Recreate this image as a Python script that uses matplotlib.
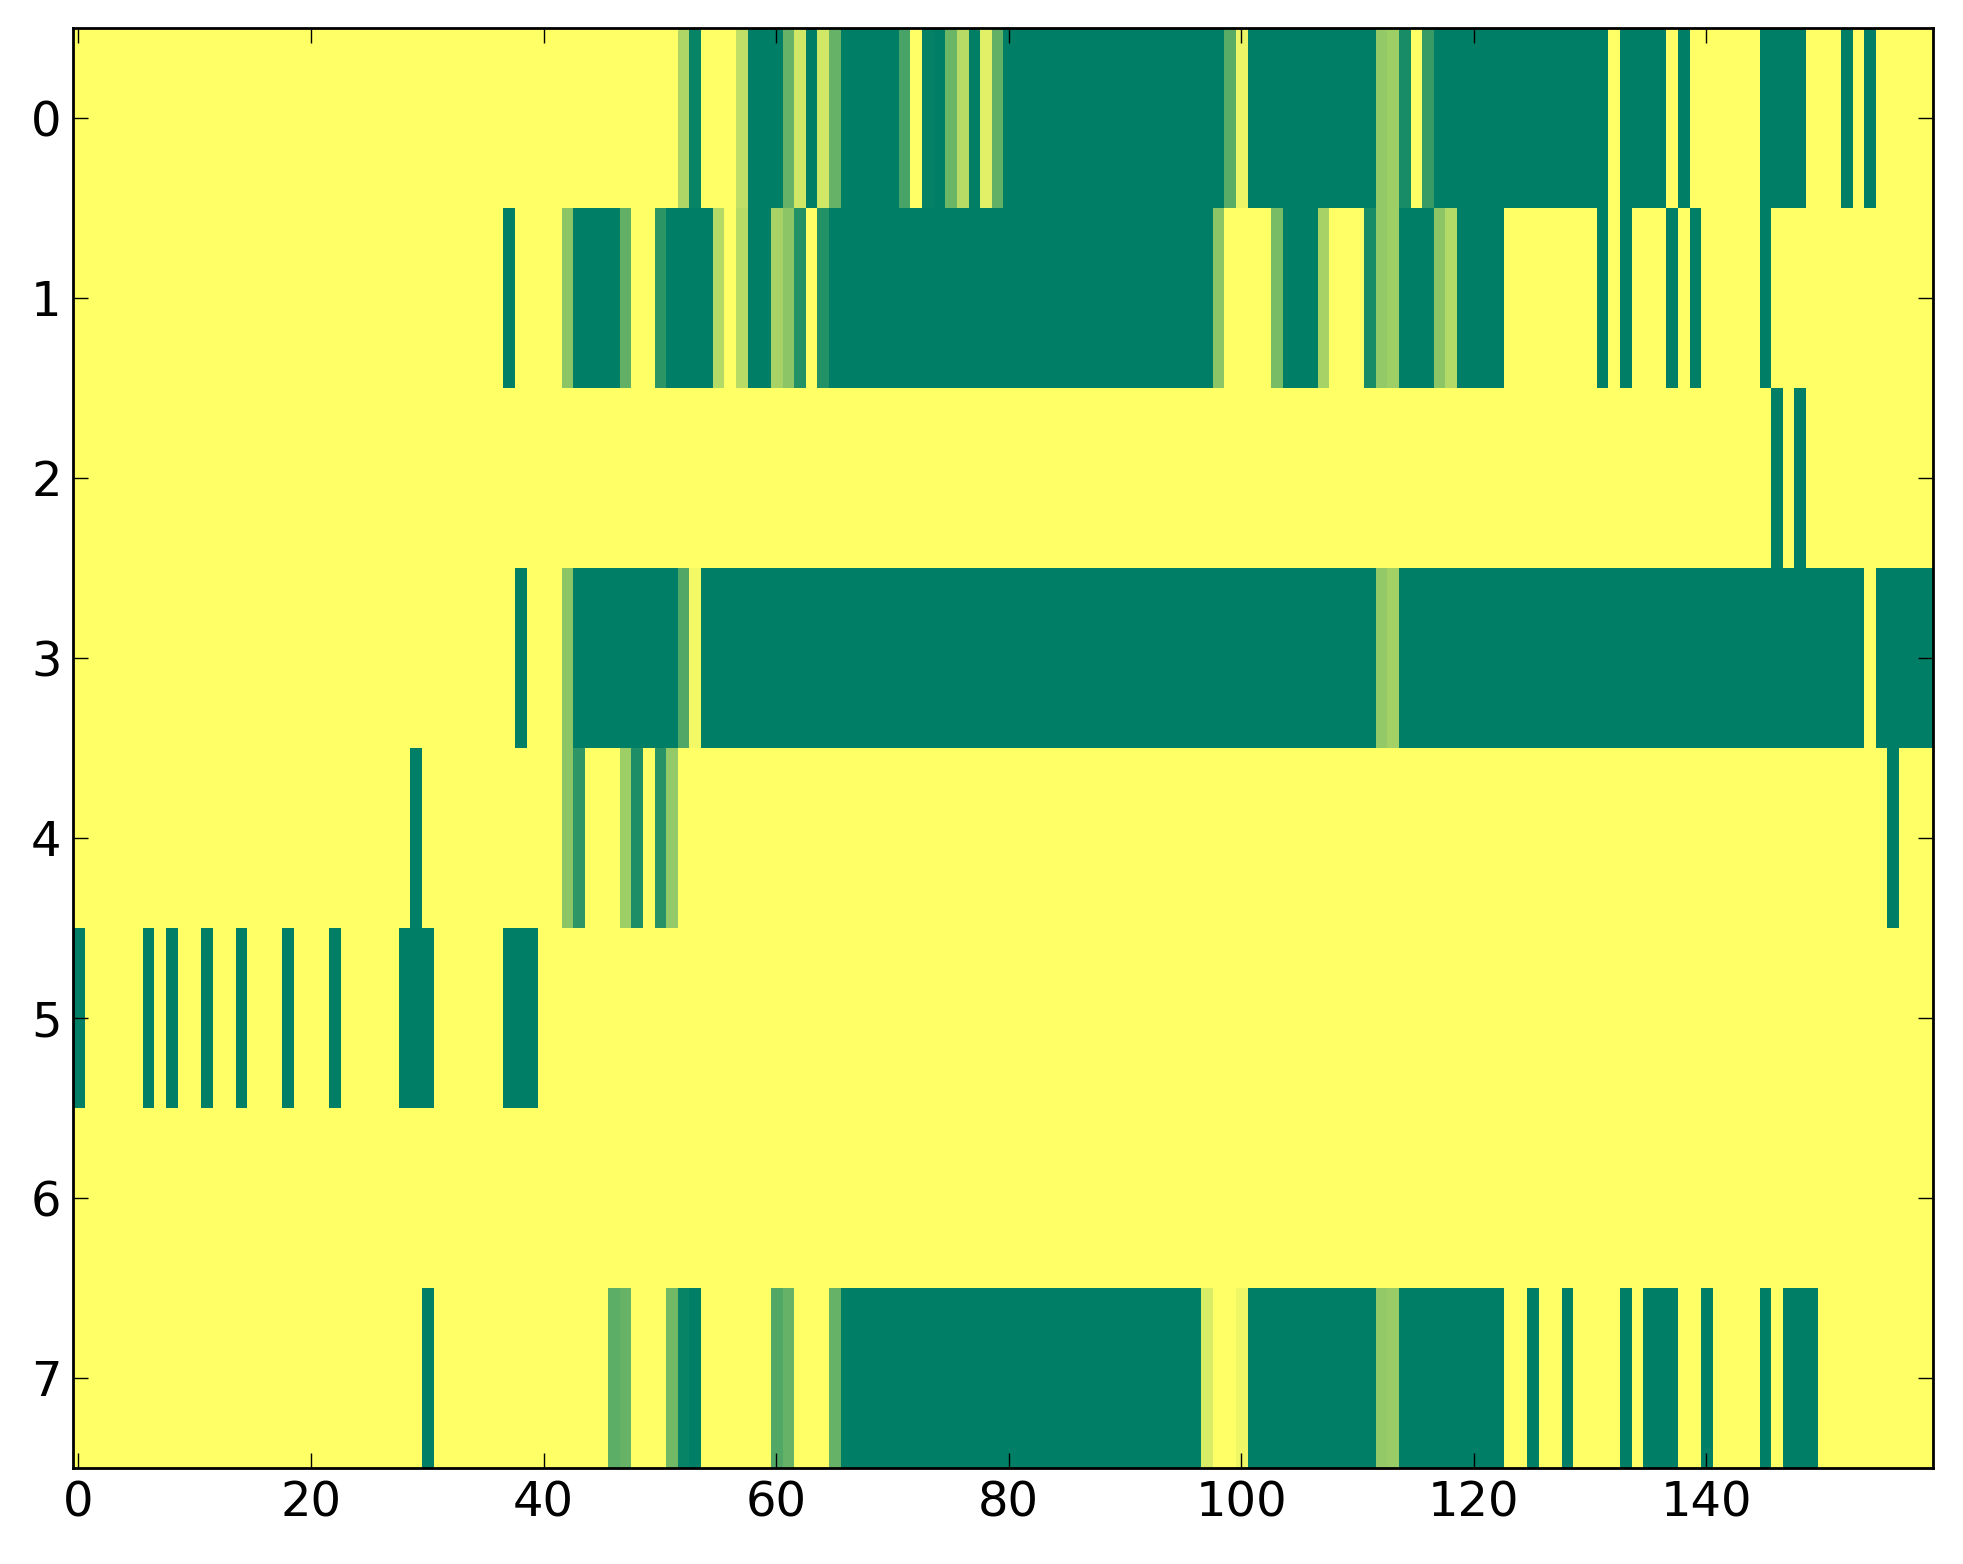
# ==========================
# Heatmap of 8 rows x 160 columns (summer_r)
# ==========================

import numpy as np
import matplotlib
matplotlib.use("Agg")
import matplotlib.pyplot as plt

# ==========================
# Data (0 = yellow, 1 = dark green)
# ==========================

row_0 = [
    0, 0, 0, 0, 0, 0, 0, 0, 0, 0, 0, 0, 0, 0, 0, 0, 0, 0, 0, 0,
    0, 0, 0, 0, 0, 0, 0, 0, 0, 0, 0, 0, 0, 0, 0, 0, 0, 0, 0, 0,
    0, 0, 0, 0, 0, 0, 0, 0, 0, 0, 0, 0, .32, .97, 0, 0, 0, .25, 1, 1,
    1, .6, .18, 1, .18, .6, 1, 1, 1, 1, 1, .72, 0, .98, 1, .58, .28, 1, .12, .62,
    1, 1, 1, 1, 1, 1, 1, 1, 1, 1, 1, 1, 1, 1, 1, 1, 1, 1, 1, .65,
    .08, 1, 1, 1, 1, 1, 1, 1, 1, 1, 1, 1, .42, .38, .9, 0, .78, 1, 1, 1,
    1, 1, 1, 1, 1, 1, 1, 1, 1, 1, 1, 1, 0, 1, 1, 1, 1, 0, 1, 0,
    0, 0, 0, 0, 0, 1, 1, 1, 1, 0, 0, 0, 1, 0, 1, 0, 0, 0, 0, 0,
]

row_1 = [
    0, 0, 0, 0, 0, 0, 0, 0, 0, 0, 0, 0, 0, 0, 0, 0, 0, 0, 0, 0,
    0, 0, 0, 0, 0, 0, 0, 0, 0, 0, 0, 0, 0, 0, 0, 0, 0, 1, 0, 0,
    0, 0, .45, 1, 1, 1, 1, .62, 0, 0, .83, 1, 1, 1, 1, .3, 0, .28, 1, 1,
    .35, .45, .86, 0, .86, 1, 1, 1, 1, 1, 1, 1, 1, 1, 1, 1, 1, 1, 1, 1,
    1, 1, 1, 1, 1, 1, 1, 1, 1, 1, 1, 1, 1, 1, 1, 1, 1, 1, .45, 0,
    0, 0, 0, .52, 1, 1, 1, .35, 0, 0, 0, .9, .42, .38, 1, 1, 1, .45, .3, 1,
    1, 1, 1, 0, 0, 0, 0, 0, 0, 0, 0, 1, 0, 1, 0, 0, 0, 1, 0, 1,
    0, 0, 0, 0, 0, 1, 0, 0, 0, 0, 0, 0, 0, 0, 0, 0, 0, 0, 0, 0,
]

row_2 = [
    0, 0, 0, 0, 0, 0, 0, 0, 0, 0, 0, 0, 0, 0, 0, 0, 0, 0, 0, 0,
    0, 0, 0, 0, 0, 0, 0, 0, 0, 0, 0, 0, 0, 0, 0, 0, 0, 0, 0, 0,
    0, 0, 0, 0, 0, 0, 0, 0, 0, 0, 0, 0, 0, 0, 0, 0, 0, 0, 0, 0,
    0, 0, 0, 0, 0, 0, 0, 0, 0, 0, 0, 0, 0, 0, 0, 0, 0, 0, 0, 0,
    0, 0, 0, 0, 0, 0, 0, 0, 0, 0, 0, 0, 0, 0, 0, 0, 0, 0, 0, 0,
    0, 0, 0, 0, 0, 0, 0, 0, 0, 0, 0, 0, 0, 0, 0, 0, 0, 0, 0, 0,
    0, 0, 0, 0, 0, 0, 0, 0, 0, 0, 0, 0, 0, 0, 0, 0, 0, 0, 0, 0,
    0, 0, 0, 0, 0, 0, 1, 0, 1, 0, 0, 0, 0, 0, 0, 0, 0, 0, 0, 0,
]

row_3 = [
    0, 0, 0, 0, 0, 0, 0, 0, 0, 0, 0, 0, 0, 0, 0, 0, 0, 0, 0, 0,
    0, 0, 0, 0, 0, 0, 0, 0, 0, 0, 0, 0, 0, 0, 0, 0, 0, 0, 1, 0,
    0, 0, .45, 1, 1, 1, 1, 1, 1, 1, 1, 1, .68, .05, 1, 1, 1, 1, 1, 1,
    1, 1, 1, 1, 1, 1, 1, 1, 1, 1, 1, 1, 1, 1, 1, 1, 1, 1, 1, 1,
    1, 1, 1, 1, 1, 1, 1, 1, 1, 1, 1, 1, 1, 1, 1, 1, 1, 1, 1, 1,
    1, 1, 1, 1, 1, 1, 1, 1, 1, 1, 1, 1, .42, .36, 1, 1, 1, 1, 1, 1,
    1, 1, 1, 1, 1, 1, 1, 1, 1, 1, 1, 1, 1, 1, 1, 1, 1, 1, 1, 1,
    1, 1, 1, 1, 1, 1, 1, 1, 1, 1, 1, 1, 1, 1, 0, 1, 1, 1, 1, 1,
]

row_4 = [
    0, 0, 0, 0, 0, 0, 0, 0, 0, 0, 0, 0, 0, 0, 0, 0, 0, 0, 0, 0,
    0, 0, 0, 0, 0, 0, 0, 0, 0, 1, 0, 0, 0, 0, 0, 0, 0, 0, 0, 0,
    0, 0, .45, .82, 0, 0, 0, .38, .88, 0, .85, .42, 0, 0, 0, 0, 0, 0, 0, 0,
    0, 0, 0, 0, 0, 0, 0, 0, 0, 0, 0, 0, 0, 0, 0, 0, 0, 0, 0, 0,
    0, 0, 0, 0, 0, 0, 0, 0, 0, 0, 0, 0, 0, 0, 0, 0, 0, 0, 0, 0,
    0, 0, 0, 0, 0, 0, 0, 0, 0, 0, 0, 0, 0, 0, 0, 0, 0, 0, 0, 0,
    0, 0, 0, 0, 0, 0, 0, 0, 0, 0, 0, 0, 0, 0, 0, 0, 0, 0, 0, 0,
    0, 0, 0, 0, 0, 0, 0, 0, 0, 0, 0, 0, 0, 0, 0, 0, 1, 0, 0, 0,
]

row_5 = [
    1, 0, 0, 0, 0, 0, 1, 0, 1, 0, 0, 1, 0, 0, 1, 0, 0, 0, 1, 0,
    0, 0, 1, 0, 0, 0, 0, 0, 1, 1, 1, 0, 0, 0, 0, 0, 0, 1, 1, 1,
    0, 0, 0, 0, 0, 0, 0, 0, 0, 0, 0, 0, 0, 0, 0, 0, 0, 0, 0, 0,
    0, 0, 0, 0, 0, 0, 0, 0, 0, 0, 0, 0, 0, 0, 0, 0, 0, 0, 0, 0,
    0, 0, 0, 0, 0, 0, 0, 0, 0, 0, 0, 0, 0, 0, 0, 0, 0, 0, 0, 0,
    0, 0, 0, 0, 0, 0, 0, 0, 0, 0, 0, 0, 0, 0, 0, 0, 0, 0, 0, 0,
    0, 0, 0, 0, 0, 0, 0, 0, 0, 0, 0, 0, 0, 0, 0, 0, 0, 0, 0, 0,
    0, 0, 0, 0, 0, 0, 0, 0, 0, 0, 0, 0, 0, 0, 0, 0, 0, 0, 0, 0,
]

row_6 = [
    0, 0, 0, 0, 0, 0, 0, 0, 0, 0, 0, 0, 0, 0, 0, 0, 0, 0, 0, 0,
    0, 0, 0, 0, 0, 0, 0, 0, 0, 0, 0, 0, 0, 0, 0, 0, 0, 0, 0, 0,
    0, 0, 0, 0, 0, 0, 0, 0, 0, 0, 0, 0, 0, 0, 0, 0, 0, 0, 0, 0,
    0, 0, 0, 0, 0, 0, 0, 0, 0, 0, 0, 0, 0, 0, 0, 0, 0, 0, 0, 0,
    0, 0, 0, 0, 0, 0, 0, 0, 0, 0, 0, 0, 0, 0, 0, 0, 0, 0, 0, 0,
    0, 0, 0, 0, 0, 0, 0, 0, 0, 0, 0, 0, 0, 0, 0, 0, 0, 0, 0, 0,
    0, 0, 0, 0, 0, 0, 0, 0, 0, 0, 0, 0, 0, 0, 0, 0, 0, 0, 0, 0,
    0, 0, 0, 0, 0, 0, 0, 0, 0, 0, 0, 0, 0, 0, 0, 0, 0, 0, 0, 0,
]

row_7 = [
    0, 0, 0, 0, 0, 0, 0, 0, 0, 0, 0, 0, 0, 0, 0, 0, 0, 0, 0, 0,
    0, 0, 0, 0, 0, 0, 0, 0, 0, 0, 1, 0, 0, 0, 0, 0, 0, 0, 0, 0,
    0, 0, 0, 0, 0, 0, .64, .6, 0, 0, 0, .55, .97, 1, 0, 0, 0, 0, 0, 0,
    .68, .6, 0, 0, 0, .6, 1, 1, 1, 1, 1, 1, 1, 1, 1, 1, 1, 1, 1, 1,
    1, 1, 1, 1, 1, 1, 1, 1, 1, 1, 1, 1, 1, 1, 1, 1, 1, .15, 0, 0,
    .06, 1, 1, 1, 1, 1, 1, 1, 1, 1, 1, 1, .42, .4, 1, 1, 1, 1, 1, 1,
    1, 1, 1, 0, 0, 1, 0, 0, 1, 0, 0, 0, 0, 1, 0, 1, 1, 1, 0, 0,
    1, 0, 0, 0, 0, 1, 0, 1, 1, 1, 0, 0, 0, 0, 0, 0, 0, 0, 0, 0,
]

x_ticks = [0, 20, 40, 60, 80, 100, 120, 140]
y_ticks = [0, 1, 2, 3, 4, 5, 6, 7]

grid = np.array([row_0, row_1, row_2, row_3, row_4, row_5, row_6, row_7])

# ==========================
# Plot
# ==========================

fig = plt.figure(figsize=(9.815, 7.82), dpi=200)
ax = fig.add_axes([0.037, 0.0614, 0.9478, 0.9207])

ax.imshow(grid, cmap="summer_r", vmin=0, vmax=1,
          aspect="auto", interpolation="nearest")

ax.set_xticks(x_ticks)
ax.set_yticks(y_ticks)

ax.tick_params(direction="in", top=True, right=True,
               length=5.5, width=0.5, pad=4, labelsize=17.3)

for spine in ax.spines.values():
    spine.set_linewidth(1.0)

fig.savefig("out.png", dpi=200)
